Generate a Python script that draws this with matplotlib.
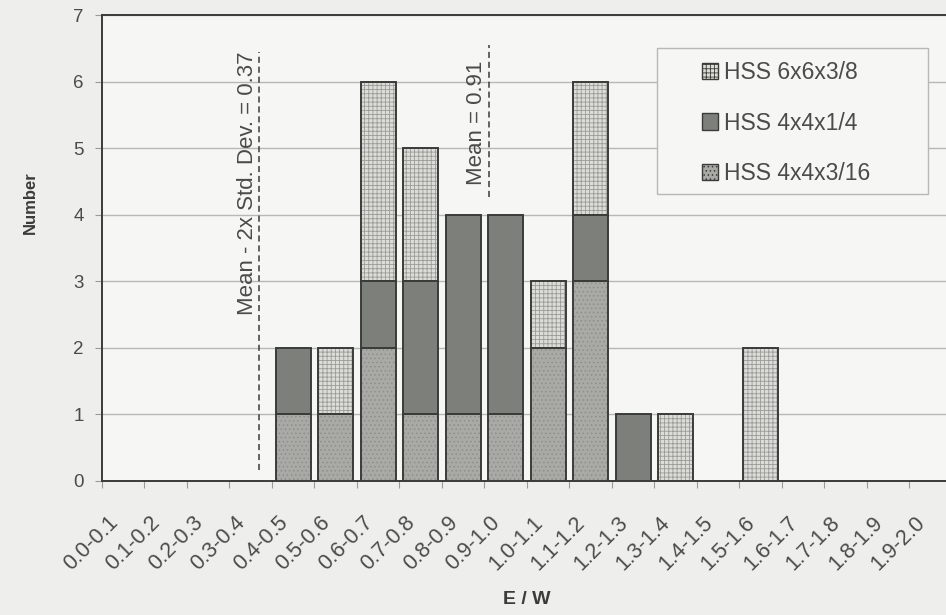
import matplotlib
matplotlib.use("Agg")
import matplotlib.pyplot as plt
import matplotlib.transforms as mtransforms
import numpy as np

plt.rcParams['font.family'] = ['Liberation Sans', 'DejaVu Sans']
plt.rcParams['hatch.linewidth'] = 0.6

categories = ["0.0-0.1", "0.1-0.2", "0.2-0.3", "0.3-0.4", "0.4-0.5", "0.5-0.6",
              "0.6-0.7", "0.7-0.8", "0.8-0.9", "0.9-1.0", "1.0-1.1", "1.1-1.2",
              "1.2-1.3", "1.3-1.4", "1.4-1.5", "1.5-1.6", "1.6-1.7", "1.7-1.8",
              "1.8-1.9", "1.9-2.0"]
hss_4x4x3_16 = [0, 0, 0, 0, 1, 1, 2, 1, 1, 1, 2, 3, 0, 0, 0, 0, 0, 0, 0, 0]
hss_4x4x1_4 = [0, 0, 0, 0, 1, 0, 1, 2, 3, 3, 0, 1, 1, 0, 0, 0, 0, 0, 0, 0]
hss_6x6x3_8 = [0, 0, 0, 0, 0, 1, 3, 2, 0, 0, 1, 2, 0, 1, 0, 2, 0, 0, 0, 0]
mean_value = 0.91
mean_minus_2sd = 0.37
yticks = [0, 1, 2, 3, 4, 5, 6, 7]

DARK = '#3a3c38'
TEXT = '#4a4c48'

fig = plt.figure(figsize=(9.46, 6.15), dpi=100, facecolor='#eeeeec')
ax = fig.add_axes([0.1078, 0.2179, 0.8985, 0.7577])
ax.set_facecolor('#f6f6f4')

x = np.arange(len(categories))
w = 0.82
b1 = np.array(hss_4x4x3_16)
b2 = np.array(hss_4x4x1_4)
b3 = np.array(hss_6x6x3_8)

series = [
    ("HSS 4x4x3/16", b1, np.zeros_like(b1), '#a9aaa6', '#8e8f8b', '....'),
    ("HSS 4x4x1/4", b2, b1, '#7d7f7b', '#747672', None),
    ("HSS 6x6x3/8", b3, b1 + b2, '#dcdcd8', '#9a9b97', '++++'),
]
handles = {}
for name, vals, bottom, fc, hc, hatch in series:
    mask = vals > 0
    ax.bar(x[mask], vals[mask], w, bottom=bottom[mask], color=fc,
           edgecolor=hc, hatch=hatch, linewidth=0, zorder=3)
    ax.bar(x[mask], vals[mask], w, bottom=bottom[mask], facecolor='none',
           edgecolor=DARK, linewidth=1.4, zorder=4)
    handles[name] = plt.Rectangle((0, 0), 1, 1, facecolor=fc, edgecolor=DARK,
                                  hatch=hatch, linewidth=1.0)

# category i covers the E/W interval [0.1*i, 0.1*(i+1)]
def to_pos(v):
    return v * 10 - 0.5

p1 = to_pos(mean_minus_2sd)
p2 = to_pos(mean_value)
ax.plot([p1, p1], [0.17, 6.45], ls=(0, (4, 2.5)), color=DARK, lw=1.1, zorder=5)
ax.plot([p2, p2], [4.27, 6.55], ls=(0, (4, 2.5)), color=DARK, lw=1.1, zorder=5)
ax.text(p1 - 0.04, 4.48, "Mean - 2x Std. Dev. = 0.37", rotation=90, ha='right',
        va='center', fontsize=16, color=TEXT, zorder=6)
ax.text(p2 - 0.05, 5.38, "Mean = 0.91", rotation=90, ha='right',
        va='center', fontsize=16, color=TEXT, zorder=6)

ax.set_xlim(-0.5, len(categories) - 0.5)
ax.set_ylim(0, 7)
ax.set_yticks(yticks)
ax.set_yticklabels([str(t) for t in yticks], fontsize=13.5, color=TEXT)
ax.yaxis.grid(True, color='#b8b9b5', lw=1.0, zorder=0)
ax.set_axisbelow(True)

# boundary ticks between categories, labels rotated below each category
ax.set_xticks(np.arange(len(categories) + 1) - 0.5)
ax.set_xticklabels([])
ax.tick_params(axis='x', length=5, color='#9a9b97', direction='out')
ax.tick_params(axis='y', length=5, color='#9a9b97', pad=8)
label_tr = (mtransforms.blended_transform_factory(ax.transData, ax.transAxes)
            + mtransforms.ScaledTranslation(-16 / 100, -31 / 100, fig.dpi_scale_trans))
for xi, cat in zip(x, categories):
    ax.text(xi, 0, cat, transform=label_tr, rotation=45, ha='right', va='top',
            rotation_mode='anchor', fontsize=15.5, color=TEXT, clip_on=False)

for s in ax.spines.values():
    s.set_color(DARK)
    s.set_linewidth(1.4)

fig.text(30 / 946, 1 - 203 / 615, "Number", rotation=90, fontsize=12,
         fontweight='bold', color=DARK, ha='center', va='center')
fig.text(527 / 946, 1 - 599 / 615, "E / W", fontsize=14, fontweight='bold',
         color=DARK, ha='center', va='center')

# legend box
fig.patches.append(plt.Rectangle((657 / 946, 1 - 194 / 615), 271 / 946, 146 / 615,
                                 transform=fig.transFigure, facecolor='#f6f6f4',
                                 edgecolor='#b8b9b5', linewidth=1.0, zorder=7))
order = ["HSS 6x6x3/8", "HSS 4x4x1/4", "HSS 4x4x3/16"]
leg = fig.legend([handles[n] for n in order], order, loc='center',
                 bbox_to_anchor=(786 / 946, 1 - 123 / 615), fontsize=16.5,
                 frameon=False, handlelength=0.7, handleheight=0.7,
                 handletextpad=0.25, labelspacing=1.18, borderpad=0)
for t in leg.get_texts():
    t.set_color(TEXT)
leg.set_zorder(8)

fig.savefig("out.png", dpi=100, facecolor=fig.get_facecolor())
